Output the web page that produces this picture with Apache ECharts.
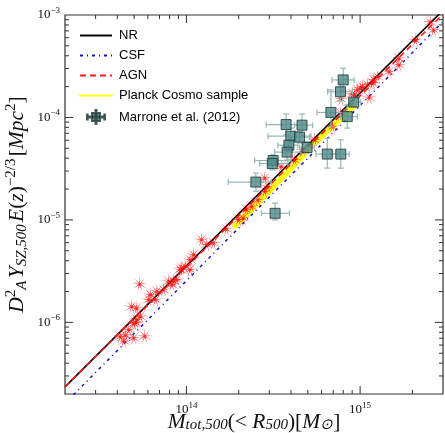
<!DOCTYPE html>
<html><head><meta charset="utf-8">
<script src="https://cdn.jsdelivr.net/npm/echarts@6/dist/echarts.min.js"></script>
<style>html,body{margin:0;padding:0;background:#fff}#c{width:445px;height:433px}</style>
</head><body><div id="c"></div>
<script>
// axis ranges
const xMin = 2e13, xMax = 3e15, yMin = 2e-7, yMax = 1e-3;
// model lines
const lineMass = [2e13, 3e15];
const nrY  = [2.35e-7, 1.11e-3];
const csfY = [1.62e-7, 8.6e-4];
const agnY = [2.35e-7, 1.02e-3];
// Planck cosmo sample band
const planckMass = [1.91e14, 2.58e14, 3.84e14, 5.70e14, 9.27e14];
const planckY    = [8.78e-6, 1.47e-5, 2.95e-5, 6.05e-5, 1.30e-4];
// simulated clusters (red asterisks)
const simMass = [4.16e13,4.46e13,4.36e13,4.66e13,4.97e13,5.75e13,4.97e13,5.19e13,5.43e13,5.11e13,
  4.84e13,5.17e13,5.38e13,6.06e13,6.20e13,6.65e13,6.76e13,7.38e13,7.89e13,8.43e13,
  8.80e13,8.24e13,9.20e13,9.83e13,9.40e13,1.05e14,1.05e14,1.10e14,1.22e14,1.31e14,
  1.43e14,1.70e14,1.99e14,2.12e14,2.21e14,2.37e14,2.58e14,2.82e14,2.95e14,2.82e14,
  3.51e14,4.19e14,4.67e14,5.45e14,6.94e14,7.74e14,7.74e14,9.03e14,9.24e14,9.65e14,
  1.004e15,1.031e15,1.10e15,1.126e15,1.20e15,1.18e15,1.26e15,1.47e15,1.67e15,1.67e15,
  2.08e15,2.65e15,2.53e15];
const simY = [7.28e-7,7.52e-7,6.55e-7,8.51e-7,7.06e-7,7.35e-7,9.73e-7,1.064e-6,1.146e-6,9.95e-7,
  1.426e-6,1.378e-6,2.36e-6,1.668e-6,1.866e-6,1.668e-6,2.01e-6,2.09e-6,2.52e-6,2.52e-6,
  2.61e-6,2.34e-6,3.27e-6,3.52e-6,3.40e-6,4.09e-6,3.27e-6,4.58e-6,6.41e-6,5.73e-6,
  5.96e-6,8.15e-6,1.005e-5,1.044e-5,1.257e-5,1.355e-5,1.573e-5,1.897e-5,2.12e-5,2.56e-5,
  3.32e-5,3.86e-5,4.83e-5,6.05e-5,8.15e-5,1.10e-4,1.52e-4,1.70e-4,1.66e-4,1.86e-4,
  1.94e-4,2.00e-4,2.08e-4,1.57e-4,2.32e-4,2.16e-4,2.50e-4,2.80e-4,3.26e-4,3.78e-4,
  5.70e-4,7.14e-4,8.55e-4];
// Marrone et al. (2012): mass [1e14 Msun], Y [1e-5 Mpc^2]
const marMass   = [7.99,7.71,9.19,6.79,8.43,3.75,4.63,3.99,4.48,3.89,4.95,3.80,6.47,7.74,3.16,3.12,2.51,3.24];
const marMassLo = [6.88,6.50,8.65,5.64,7.74,2.88,4.19,2.95,3.92,3.36,4.48,3.22,5.57,6.94,2.47,2.64,1.74,2.70];
const marMassHi = [9.24,9.03,10.08,8.10,9.65,4.88,5.33,5.21,5.11,4.38,5.45,4.57,7.58,8.65,4.01,3.84,3.08,3.92];
const marY   = [23.25,17.8,14.1,11.2,10.2,8.53,8.41,6.57,6.43,5.37,5.09,4.59,4.39,4.39,3.80,3.55,2.34,1.16];
const marYHi = [30.2,21.7,15.4,18.6,13.3,10.8,10.8,7.87,7.29,6.05,5.82,5.62,6.28,6.05,4.32,4.01,2.87,1.46];
const marYLo = [18.3,14.5,12.8,8.10,7.87,6.77,6.51,5.62,5.62,4.65,4.49,3.86,3.20,3.20,3.45,3.08,1.90,1.00];
// tick values
const xMajorTicks = [1e14, 1e15];
const xMinorTicks = [3e13,4e13,5e13,6e13,7e13,8e13,9e13,2e14,3e14,4e14,5e14,6e14,7e14,8e14,9e14,2e15];
const yMajorTicks = [1e-6, 1e-5, 1e-4];
const yMinorTicks = [3e-7,4e-7,5e-7,6e-7,7e-7,8e-7,9e-7,2e-6,3e-6,4e-6,5e-6,6e-6,7e-6,8e-6,9e-6,
  2e-5,3e-5,4e-5,5e-5,6e-5,7e-5,8e-5,9e-5,2e-4,3e-4,4e-4,5e-4,6e-4,7e-4,8e-4,9e-4];

const zip = (a, b) => a.map((v, i) => [v, b[i]]);
function starPath(n, rIn) {
  let d = '';
  for (let i = 0; i < 2 * n; i++) {
    const r = i % 2 === 0 ? 10 : 10 * rIn;
    const a = Math.PI * i / n - Math.PI / 2;
    d += (i === 0 ? 'M' : 'L') + (r * Math.cos(a)).toFixed(3) + ' ' + (r * Math.sin(a)).toFixed(3) + ' ';
  }
  return 'path://' + d + 'Z';
}
const SERIF = 'Liberation Serif';
const supLabel = v => {
  const e = Math.round(Math.log10(v));
  if (Math.abs(Math.log10(v) - e) > 1e-6) return '';
  return '{b|10}{s|' + String(e).replace('-', '\u2212') + '}';
};
const tickRich = {
  b: {fontFamily: SERIF, fontSize: 13, lineHeight: 18, color: '#111'},
  s: {fontFamily: SERIF, fontSize: 9, verticalAlign: 'top', color: '#111'}
};
function makeTitleRich(lh) {
  return {
    it: {fontFamily: SERIF, fontStyle: 'italic', fontSize: 21.5, lineHeight: lh, color: '#111'},
    rm: {fontFamily: SERIF, fontSize: 21.5, lineHeight: lh, color: '#111'},
    sp: {fontFamily: SERIF, fontSize: 9, lineHeight: lh},
    sup: {fontFamily: SERIF, fontSize: 15, verticalAlign: 'top', color: '#111'},
    sub: {fontFamily: SERIF, fontStyle: 'italic', fontSize: 15, verticalAlign: 'bottom', color: '#111'}
  };
}

const chart = echarts.init(document.getElementById('c'), null, {renderer: 'canvas'});

function tickRenderer(isX) {
  return function (params, api) {
    const cs = params.coordSys;
    const major = api.value(2) === 1;
    const len = major ? 8 : 4;
    const st = {stroke: '#333', lineWidth: 1};
    if (isX) {
      const x = api.coord([api.value(0), api.value(1)])[0];
      return {type: 'group', children: [
        {type: 'line', shape: {x1: x, y1: cs.y + cs.height, x2: x, y2: cs.y + cs.height - len}, style: st},
        {type: 'line', shape: {x1: x, y1: cs.y, x2: x, y2: cs.y + len}, style: st}
      ]};
    } else {
      const y = api.coord([api.value(0), api.value(1)])[1];
      return {type: 'group', children: [
        {type: 'line', shape: {x1: cs.x, y1: y, x2: cs.x + len, y2: y}, style: st},
        {type: 'line', shape: {x1: cs.x + cs.width, y1: y, x2: cs.x + cs.width - len, y2: y}, style: st}
      ]};
    }
  };
}

const marData = marMass.map((m, i) => [m * 1e14, marY[i] * 1e-5, marMassLo[i] * 1e14, marMassHi[i] * 1e14, marYLo[i] * 1e-5, marYHi[i] * 1e-5]);
const hideSym = {opacity: 0};

const option = {
  animation: false,
  backgroundColor: '#fff',
  grid: {left: 65, top: 15, right: 2, bottom: 39, outerBoundsMode: 'none', containLabel: false,
    show: true, borderColor: '#333', borderWidth: 1.2, backgroundColor: 'transparent'},
  legend: {
    orient: 'vertical', left: 74, top: 24, itemWidth: 32, itemHeight: 14, itemGap: 7,
    textStyle: {fontFamily: 'Liberation Sans', fontSize: 13, color: '#000', padding: [0, 0, 0, 2]},
    data: [
      {name: 'NR', itemStyle: hideSym},
      {name: 'CSF', itemStyle: hideSym},
      {name: 'AGN', itemStyle: hideSym},
      {name: 'Planck Cosmo sample', itemStyle: hideSym, lineStyle: {width: 2}},
      {name: 'Marrone et al. (2012)', icon: 'path://M-9 -0.5 H9 V0.5 H-9 Z M-9 -2.5 H-8.3 V2.5 H-9 Z M8.3 -2.5 H9 V2.5 H8.3 Z M-0.5 -7 H0.5 V7 H-0.5 Z M-4 -4 H4 V4 H-4 Z'}
    ]
  },
  xAxis: {
    type: 'log', logBase: 10, min: xMin, max: xMax,
    axisLine: {show: false}, axisTick: {show: false}, splitLine: {show: false},
    axisLabel: {formatter: supLabel, rich: tickRich, margin: 7, showMinLabel: false, showMaxLabel: false},
    name: '{it|M}{sub|tot,500}{rm|(< }{it|R}{sub|500}{rm|)[}{it|M}{sub|\u2299}{rm|]}',
    nameLocation: 'middle', nameGap: 17, nameMoveOverlap: false,
    nameTextStyle: {rich: makeTitleRich(22), verticalAlign: 'top'}
  },
  yAxis: {
    type: 'log', logBase: 10, min: yMin, max: yMax,
    axisLine: {show: false}, axisTick: {show: false}, splitLine: {show: false},
    axisLabel: {formatter: supLabel, rich: tickRich, margin: 5, showMinLabel: false, showMaxLabel: true},
    name: '{it|D}{sup|2}{sub|A}{sp| }{it|Y}{sub|SZ,500}{sp| }{it|E}{rm|(}{it|z}{rm|)}{sup|\u22122/3}{sp| }{rm|[}{it|Mpc}{sup|2}{rm|]}',
    nameLocation: 'middle', nameGap: 35, nameRotate: 90, nameMoveOverlap: false,
    nameTextStyle: {rich: makeTitleRich(26)}
  },
  series: [
    {name: 'Planck Cosmo sample', type: 'line', data: zip(planckMass, planckY), symbol: 'none',
      lineStyle: {color: '#ffff1a', width: 6, cap: 'round'}, itemStyle: {color: '#ffff1a'}, z: 2},
    {name: 'CSF', type: 'line', data: zip(lineMass, csfY), symbol: 'none',
      lineStyle: {color: '#1010c8', width: 1.5, type: [3, 4, 1, 4]}, itemStyle: {color: '#1010c8'}, z: 2},
    {name: 'NR', type: 'line', data: zip(lineMass, nrY), symbol: 'none',
      lineStyle: {color: '#000', width: 1.6}, itemStyle: {color: '#000'}, z: 2},
    {name: 'AGN', type: 'line', data: zip(lineMass, agnY), symbol: 'none',
      lineStyle: {color: '#ff1a1a', width: 1.6, type: [6, 4]}, itemStyle: {color: '#ff1a1a'}, z: 2},
    {name: 'sim', type: 'scatter', data: zip(simMass, simY), symbol: starPath(9, 0.14), symbolSize: 16,
      itemStyle: {color: '#ff1010', opacity: 0.9}, z: 3},
    {name: 'Marrone err', type: 'custom', data: marData, z: 4,
      encode: {x: [0, 2, 3], y: [1, 4, 5]},
      renderItem: function (params, api) {
        const c = api.coord([api.value(0), api.value(1)]);
        const xl = api.coord([api.value(2), api.value(1)]);
        const xh = api.coord([api.value(3), api.value(1)]);
        const yl = api.coord([api.value(0), api.value(4)]);
        const yh = api.coord([api.value(0), api.value(5)]);
        const cap = 3;
        const st = {stroke: '#93b8b8', lineWidth: 1.2};
        return {type: 'group', children: [
          {type: 'line', shape: {x1: xl[0], y1: c[1], x2: xh[0], y2: c[1]}, style: st},
          {type: 'line', shape: {x1: c[0], y1: yl[1], x2: c[0], y2: yh[1]}, style: st},
          {type: 'line', shape: {x1: xl[0], y1: c[1] - cap, x2: xl[0], y2: c[1] + cap}, style: st},
          {type: 'line', shape: {x1: xh[0], y1: c[1] - cap, x2: xh[0], y2: c[1] + cap}, style: st},
          {type: 'line', shape: {x1: c[0] - cap, y1: yl[1], x2: c[0] + cap, y2: yl[1]}, style: st},
          {type: 'line', shape: {x1: c[0] - cap, y1: yh[1], x2: c[0] + cap, y2: yh[1]}, style: st}
        ]};
      }
    },
    {name: 'Marrone et al. (2012)', type: 'scatter', data: marData.map(d => [d[0], d[1]]), symbol: 'rect', symbolSize: 10,
      itemStyle: {color: '#50898a', borderColor: '#1d3535', borderWidth: 1}, z: 5},
    {name: 'xticks', type: 'custom', z: 6, silent: true,
      data: xMajorTicks.map(v => [v, 1e-5, 1]).concat(xMinorTicks.map(v => [v, 1e-5, 0])),
      renderItem: tickRenderer(true)},
    {name: 'yticks', type: 'custom', z: 6, silent: true,
      data: yMajorTicks.map(v => [1e14, v, 1]).concat(yMinorTicks.map(v => [1e14, v, 0])),
      renderItem: tickRenderer(false)}
  ]
};
chart.setOption(option);
</script>
</body></html>
